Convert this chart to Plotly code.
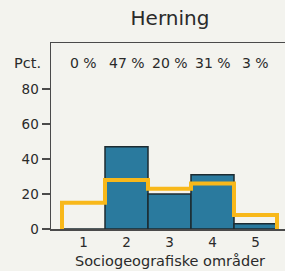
import plotly.graph_objects as go

categories = [1, 2, 3, 4, 5]
share = [0, 47, 20, 31, 3]
reference = [15, 28, 23, 26, 8]
pct_labels = ["0 %", "47 %", "20 %", "31 %", "3 %"]
y_ticks = [0, 20, 40, 60, 80]

FONT = "DejaVu Sans, Verdana, sans-serif"
BG = "#F3F3EE"
TXT = "#2a2a2a"

# plot area in pixels
L, R, T, B = 51, 285, 43, 229
W, H = 285, 271
PX_PER_UNIT_Y = 1.75
PX_PER_CAT = 43.0
X_CENTER_1 = 83.5

# step outline of the reference distribution
step_x = [categories[0] - 0.5] + [c - 0.5 for c in categories] + [categories[-1] + 0.5]
step_y = [0] + reference + [0]

fig = go.Figure()
fig.add_trace(go.Bar(
    x=categories, y=share, width=1,
    marker=dict(color="#2A7A9E", line=dict(color="#1C2B31", width=1.5)),
    showlegend=False, hoverinfo="skip",
))
fig.add_trace(go.Scatter(
    x=step_x, y=step_y, mode="lines",
    line=dict(color="#F8B81A", width=4, shape="hv"),
    cliponaxis=False, showlegend=False, hoverinfo="skip",
))

label_y = 1 - (63 - T) / (B - T)
ann = []
for c, t in zip(categories, pct_labels):
    ann.append(dict(x=c, y=label_y, xref="x", yref="paper", text=t, showarrow=False,
                    font=dict(size=14, color=TXT, family=FONT), yanchor="middle", xanchor="center"))
ann.append(dict(x=(27 - L) / (R - L), y=label_y, xref="paper", yref="paper", text="Pct.", showarrow=False,
                font=dict(size=14.5, color=TXT, family=FONT), yanchor="middle", xanchor="center"))
ann.append(dict(x=(170 - L) / (R - L), y=-(261 - B) / (B - T), xref="paper", yref="paper",
                text="Sociogeografiske områder", showarrow=False,
                font=dict(size=14.5, color=TXT, family=FONT), yanchor="middle", xanchor="center"))

fig.update_layout(
    width=W, height=H,
    margin=dict(l=L, r=W - R, t=T, b=H - B, autoexpand=False),
    paper_bgcolor=BG, plot_bgcolor=BG,
    annotations=ann,
    title=dict(text="Herning", x=170 / W, xanchor="center", y=1 - 18 / H, yanchor="middle",
               font=dict(size=20, color=TXT, family=FONT)),
    bargap=0,
    xaxis=dict(range=[1 - (X_CENTER_1 - L) / PX_PER_CAT, 5 + (R - X_CENTER_1 - 4 * PX_PER_CAT) / PX_PER_CAT],
               tickvals=categories, ticktext=[str(c) for c in categories],
               showline=True, linecolor="#4a4a4a", linewidth=1.5, mirror=True, ticks="", showgrid=False,
               zeroline=False, tickfont=dict(size=13.5, color=TXT, family=FONT), automargin=False),
    yaxis=dict(range=[0, (B - T) / PX_PER_UNIT_Y], tickvals=y_ticks, showline=True, linecolor="#4a4a4a",
               linewidth=1.5, ticks="outside", ticklen=8, tickwidth=1.5, tickcolor="#4a4a4a",
               showgrid=False, zeroline=False, automargin=False,
               tickfont=dict(size=13.5, color=TXT, family=FONT)),
    font=dict(family=FONT),
)

fig.write_html("out.html", config={"displayModeBar": False, "staticPlot": True},
               post_script="document.body.style.margin='0';")
